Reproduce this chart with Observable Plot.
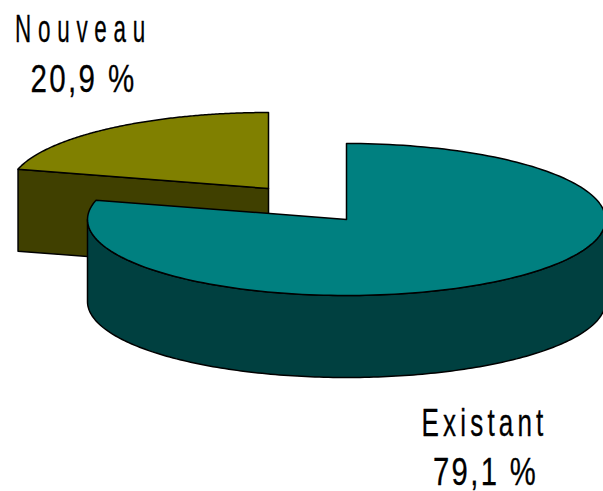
<!DOCTYPE html>
<html><head><meta charset="utf-8">
<script src="https://cdn.jsdelivr.net/npm/d3@7"></script>
<script src="https://cdn.jsdelivr.net/npm/@observablehq/plot@0.6"></script>
<style>html,body{margin:0;padding:0;background:#fff}svg{display:block}</style>
</head><body><div id="c"></div>
<script>
const categories = ["Existant", "Nouveau"];
const shares = [79.1, 20.9];
const shareLabels = ["79,1 %", "20,9 %"];
const topColors = ["#008080", "#808000"];
const wallColors = ["#004040", "#404000"];
const centers = [[346, 219], [268, 188]];
const rx = 259, ry = 76, depth = 82;

const labelRows = [
  {t: categories[0], x: 484, y: 435, w: 126, sp: "0.16em"},
  {t: shareLabels[0], x: 485, y: 484, w: 105, sp: "0.08em"},
  {t: categories[1], x: 83, y: 41, w: 137, sp: "0.3em"},
  {t: shareLabels[1], x: 83, y: 91, w: 106, sp: "0.08em"}
];

const turn = shares[0] / 100 * 2 * Math.PI;
const pt = (c, a, d = 0) => ({x: c[0] + rx * Math.sin(a), y: c[1] - ry * Math.cos(a) + d});
const arc = (c, a0, a1, d = 0) => {
  const n = 180, out = [];
  for (let i = 0; i <= n; i++) out.push(pt(c, a0 + (a1 - a0) * i / n, d));
  return out;
};

const c1 = centers[1], c0 = centers[0];
const nTop = [{x: c1[0], y: c1[1]}, ...arc(c1, turn, 2 * Math.PI)];
const nA = pt(c1, turn);
const nWall = [nA, {x: c1[0], y: c1[1]}, {x: c1[0], y: c1[1] + depth}, {...nA, y: nA.y + depth}];

const eTop = [{x: c0[0], y: c0[1]}, ...arc(c0, 0, turn)];
const sideEnd = Math.min(turn, 1.5 * Math.PI);
const eSide = [...arc(c0, Math.PI / 2, sideEnd), ...arc(c0, sideEnd, Math.PI / 2, depth)];

const shape = (pts, fill) => Plot.line(pts, {x: "x", y: "y", fill, stroke: "#000", strokeWidth: 1.5, strokeLinejoin: "round", curve: "linear-closed"});

const chart = Plot.plot({
  width: 603, height: 491, margin: 0,
  x: {domain: [0, 603], range: [0, 603], axis: null},
  y: {domain: [0, 491], range: [0, 491], axis: null},
  marks: [
    shape(nWall, wallColors[1]),
    shape(nTop, topColors[1]),
    shape(eSide, wallColors[0]),
    shape(eTop, topColors[0]),
    Plot.text(labelRows, {x: "x", y: "y", text: "t", fontSize: 39, fill: "#000", stroke: "#000", strokeWidth: 0.3, textAnchor: "middle", lineAnchor: "bottom", fontFamily: "'Liberation Sans',sans-serif"})
  ]
});
[...chart.querySelectorAll("text")].forEach(n => {
  const r = labelRows.find(r => r.t === n.textContent);
  if (!r) return;
  n.setAttribute("textLength", r.w);
  n.setAttribute("lengthAdjust", "spacingAndGlyphs");
  n.style.letterSpacing = r.sp;
});
document.getElementById("c").appendChild(chart);
</script></body></html>
